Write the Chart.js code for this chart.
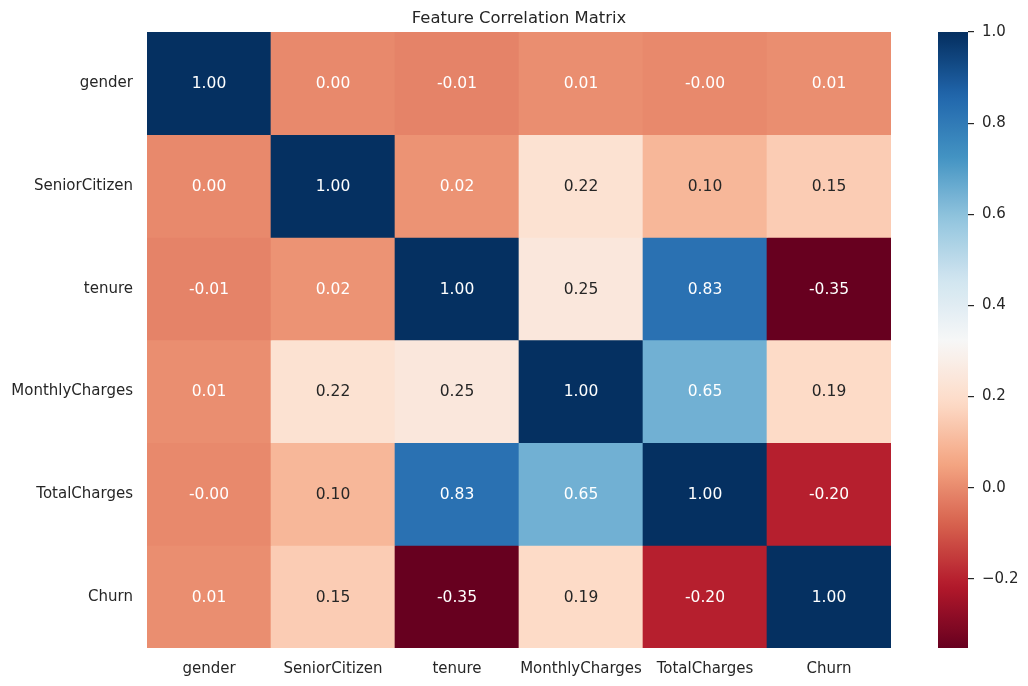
<!DOCTYPE html>
<html lang="en">
<head>
    <meta charset="UTF-8">
    <title>Feature Correlation Matrix</title>
    <script src="https://cdn.jsdelivr.net/npm/chart.js"></script>
    <style>
        body { margin: 0; background: #ffffff; overflow: hidden; }
        #heat { position: absolute; left: 0; top: 0; }
        #cbar { position: absolute; left: 900px; top: 0; }
    </style>
</head>
<body>
    <canvas id="heat" width="900" height="686"></canvas>
    <canvas id="cbar" width="128" height="686"></canvas>

    <script>
        // feature names (rows and columns are the same)
        const features = ["gender", "SeniorCitizen", "tenure", "MonthlyCharges", "TotalCharges", "Churn"];

        // one array per row of the matrix
        const genderRow   = [1.00, 0.00, -0.01, 0.01, -0.001, 0.01];
        const seniorRow   = [0.00, 1.00, 0.02, 0.22, 0.10, 0.15];
        const tenureRow   = [-0.01, 0.02, 1.00, 0.25, 0.83, -0.352];
        const monthlyRow  = [0.01, 0.22, 0.25, 1.00, 0.65, 0.19];
        const totalRow    = [-0.001, 0.10, 0.83, 0.65, 1.00, -0.20];
        const churnRow    = [0.01, 0.15, -0.352, 0.19, -0.20, 1.00];
        const matrix = [genderRow, seniorRow, tenureRow, monthlyRow, totalRow, churnRow];

        const cbarTicks = [-0.2, 0.0, 0.2, 0.4, 0.6, 0.8, 1.0];

        const vmin = Math.min(...matrix.flat());
        const vmax = Math.max(...matrix.flat());

        // matplotlib RdBu anchors, low -> high
        const rdbu = [
            [103, 0, 31], [178, 24, 43], [214, 96, 77], [244, 165, 130], [253, 219, 199],
            [247, 247, 247], [209, 229, 240], [146, 197, 222], [67, 147, 195], [33, 102, 172], [5, 48, 97]
        ];

        function cmap(t) {
            t = Math.min(1, Math.max(0, t));
            const idx = Math.min(255, Math.floor(t * 256)) / 255;
            const p = idx * (rdbu.length - 1);
            const i = Math.min(rdbu.length - 2, Math.floor(p));
            const f = p - i;
            return rdbu[i].map((c, k) => c + (rdbu[i + 1][k] - c) * f);
        }
        function rgb(c) { return `rgb(${c.map(Math.round).join(",")})`; }
        function colorOf(v) { return cmap((v - vmin) / (vmax - vmin)); }

        function luminance(c) {
            const lin = c.map(x => {
                x = x / 255;
                return x <= 0.03928 ? x / 12.92 : Math.pow((x + 0.055) / 1.055, 2.4);
            });
            return 0.2126 * lin[0] + 0.7152 * lin[1] + 0.0722 * lin[2];
        }

        const textColor = "#262626";
        const font = { family: "'DejaVu Sans', sans-serif", size: 15 };

        // one floating-bar dataset per row, each bar spans [r, r+1]
        const datasets = matrix.map((row, r) => ({
            label: features[r],
            data: features.map(() => [r, r + 1]),
            backgroundColor: ctx => rgb(colorOf(row[ctx.dataIndex])),
            borderWidth: 0,
            barPercentage: 1,
            categoryPercentage: 1,
            grouped: false
        }));

        const annotate = {
            id: "annotate",
            afterDatasetsDraw(chart) {
                const c = chart.ctx;
                c.save();
                c.font = "15.5px 'DejaVu Sans', sans-serif";
                c.textAlign = "center";
                c.textBaseline = "middle";
                chart.data.datasets.forEach((ds, r) => {
                    chart.getDatasetMeta(r).data.forEach((el, j) => {
                        const v = matrix[r][j];
                        c.fillStyle = luminance(colorOf(v)) < 0.408 ? "#ffffff" : textColor;
                        c.fillText(v.toFixed(2), el.x, (el.y + el.base) / 2 + 1);
                    });
                });
                c.restore();
            }
        };

        new Chart(document.getElementById("heat"), {
            type: "bar",
            data: { labels: features, datasets: datasets },
            plugins: [annotate],
            options: {
                responsive: false,
                animation: false,
                layout: { padding: { left: 0, right: 9, top: 0, bottom: 0 } },
                plugins: { legend: { display: false }, tooltip: { enabled: false } },
                scales: {
                    x: {
                        type: "category",
                        position: "bottom",
                        grid: { display: false, drawTicks: false },
                        border: { display: false },
                        ticks: { color: textColor, font: font, padding: 12, maxRotation: 0, autoSkip: false },
                        afterFit: s => { s.height = 38; }
                    },
                    xTop: {
                        type: "category",
                        position: "top",
                        grid: { display: false, drawTicks: false },
                        border: { display: false },
                        ticks: { display: false },
                        title: {
                            display: true,
                            text: "Feature Correlation Matrix",
                            color: textColor,
                            font: { family: "'DejaVu Sans', sans-serif", size: 16.4 },
                            padding: { top: 9, bottom: 0 }
                        },
                        afterFit: s => { s.height = 32; }
                    },
                    y: {
                        type: "linear",
                        min: 0,
                        max: 6,
                        reverse: true,
                        grid: { display: false, drawTicks: false },
                        border: { display: false },
                        ticks: {
                            color: textColor,
                            font: font,
                            padding: 14,
                            autoSkip: false,
                            callback: (v, i) => features[i]
                        },
                        afterBuildTicks: s => { s.ticks = features.map((_, i) => ({ value: i + 0.5 })); },
                        afterFit: s => { s.width = 147; }
                    }
                }
            }
        });

        // colour bar
        new Chart(document.getElementById("cbar"), {
            type: "bar",
            data: {
                labels: ["cbar"],
                datasets: [{
                    data: [[vmin, vmax]],
                    borderWidth: 0,
                    barPercentage: 1,
                    categoryPercentage: 1,
                    backgroundColor: ctx => {
                        const area = ctx.chart.chartArea;
                        if (!area) return "#ffffff";
                        const g = ctx.chart.ctx.createLinearGradient(0, area.bottom, 0, area.top);
                        for (let k = 0; k <= 64; k++) g.addColorStop(k / 64, rgb(cmap(k / 64)));
                        return g;
                    }
                }]
            },
            options: {
                responsive: false,
                animation: false,
                layout: { padding: { left: 38, right: 0, top: 32, bottom: 38 } },
                plugins: { legend: { display: false }, tooltip: { enabled: false } },
                scales: {
                    x: { display: false },
                    y: {
                        type: "linear",
                        position: "right",
                        min: vmin,
                        max: vmax,
                        grid: { drawOnChartArea: false, drawTicks: true, tickLength: 6, color: textColor, lineWidth: 1.2 },
                        border: { display: false },
                        ticks: {
                            color: textColor,
                            font: font,
                            padding: 8,
                            callback: v => (v < 0 ? "\u2212" + Math.abs(v).toFixed(1) : v.toFixed(1))
                        },
                        afterBuildTicks: s => { s.ticks = cbarTicks.map(v => ({ value: v })); },
                        afterFit: s => { s.width = 60; }
                    }
                }
            }
        });
    </script>
</body>
</html>
